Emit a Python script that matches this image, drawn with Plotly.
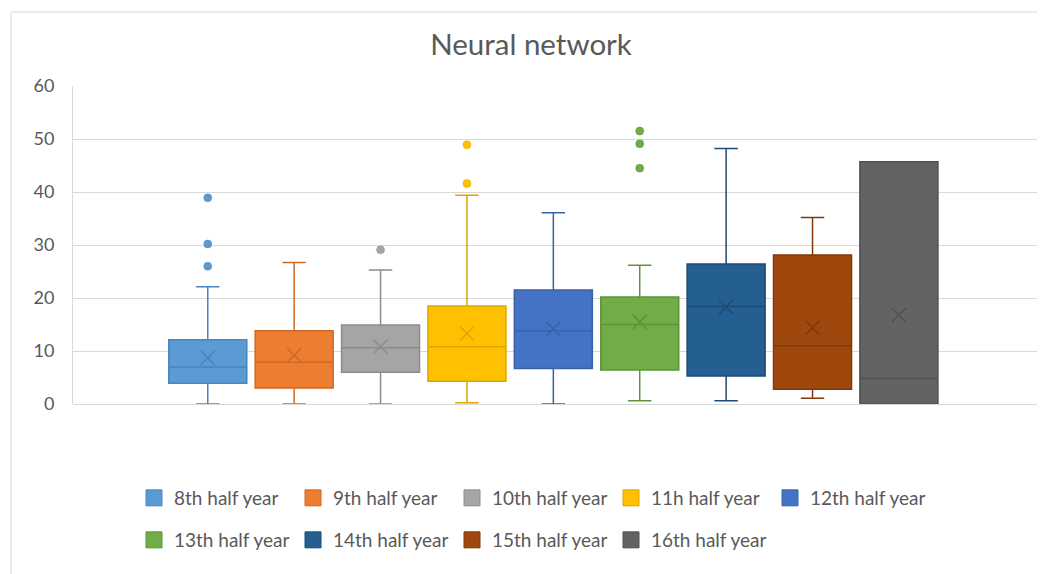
import plotly.graph_objects as go

# ---------------- data ----------------
series = ["8th half year", "9th half year", "10th half year", "11h half year", "12th half year",
          "13th half year", "14th half year", "15th half year", "16th half year"]
q1 = [3.9, 3.0, 6.0, 4.3, 6.7, 6.4, 5.3, 2.8, 0.0]
median = [7.0, 7.9, 10.6, 10.8, 13.8, 15.0, 18.4, 11.0, 4.8]
q3 = [12.1, 13.8, 14.9, 18.5, 21.5, 20.2, 26.4, 28.1, 45.7]
lower_whisker = [0.0, 0.0, 0.0, 0.25, 0.0, 0.6, 0.6, 1.1, 0.0]
upper_whisker = [22.1, 26.7, 25.3, 39.4, 36.1, 26.2, 48.2, 35.2, 45.7]
mean = [8.7, 9.2, 10.8, 13.3, 14.2, 15.5, 18.3, 14.4, 16.8]
outliers = [[26.0, 30.2, 38.9], [], [29.1], [41.6, 48.9], [], [44.5, 49.1, 51.5], [], [], []]
y_ticks = [0, 10, 20, 30, 40, 50, 60]

fills = ["#5B9BD5", "#ED7D31", "#A5A5A5", "#FFC000", "#4472C4", "#70AD47", "#255E91", "#9E480E", "#636363"]
lines = ["#4A85BD", "#CF6A25", "#8C8C8C", "#DDA600", "#3A62AA", "#5E933B", "#1D4B75", "#81390A", "#505050"]

FONT = "Lato"
GREY = "#595959"

# page body has an 8px margin: layout below is expressed in figure pixels
L, R, T, B = 65, 15, 78, 178
PW, PH = 1045 - L - R, 574 - T - B
BOTTOM = 574 - B

fig = go.Figure()

for i, name in enumerate(series):
    kw = {}
    if outliers[i]:
        kw["y"] = [outliers[i]]
    fig.add_trace(go.Box(
        x=[name], q1=[q1[i]], median=[median[i]], q3=[q3[i]],
        lowerfence=[lower_whisker[i]], upperfence=[upper_whisker[i]],
        name=name, showlegend=False,
        fillcolor=fills[i], line=dict(color=lines[i], width=1.5),
        whiskerwidth=0.3, boxpoints="outliers",
        marker=dict(color=fills[i], size=8, line=dict(color=lines[i], width=0.5)),
        **kw,
    ))

# mean markers (X)
fig.add_trace(go.Scatter(
    x=series, y=mean, mode="markers", showlegend=False, hoverinfo="skip",
    marker=dict(symbol="x-thin", size=14, line=dict(width=1.5, color=lines)),
))

# legend entries (square swatches)
for i, name in enumerate(series):
    fig.add_trace(go.Scatter(
        x=[None], y=[None], mode="markers", name=name,
        legend="legend" if i < 5 else "legend2",
        marker=dict(symbol="square", size=16, color=fills[i], line=dict(color=lines[i], width=1)),
    ))

leg_common = dict(
    orientation="h", xref="paper", yref="paper", xanchor="left", yanchor="middle",
    font=dict(family=FONT, size=19, color=GREY), entrywidth=114, entrywidthmode="pixels",
    itemwidth=30, bgcolor="rgba(0,0,0,0)", traceorder="normal",
)

fig.update_layout(
    width=1045, height=574,
    paper_bgcolor="white", plot_bgcolor="white",
    margin=dict(l=L, r=R, t=T, b=B, autoexpand=False),
    boxgap=0.097, boxgroupgap=0, boxmode="overlay",
    title=dict(text="Neural network", x=523 / 1045, xanchor="center", y=1 - 37 / 574, yanchor="middle",
               font=dict(family=FONT, size=29.5, color=GREY)),
    font=dict(family=FONT, color=GREY),
    xaxis=dict(type="category", categoryorder="array", categoryarray=series,
               range=[-1.56, 9.61], showticklabels=False, showgrid=False, zeroline=False,
               showline=False, ticks=""),
    yaxis=dict(range=[0, 60], tickvals=y_ticks, showgrid=True, gridcolor="#D9D9D9", gridwidth=1,
               zeroline=True, zerolinecolor="#D9D9D9", zerolinewidth=1,
               showline=True, linecolor="#D9D9D9", linewidth=1,
               ticks="outside", ticklen=14, tickcolor="rgba(0,0,0,0)",
               tickfont=dict(family=FONT, size=18, color=GREY)),
    legend=dict(x=(126 - L) / PW, y=(BOTTOM - 490) / PH, **leg_common),
    legend2=dict(x=(126 - L) / PW, y=(BOTTOM - 532) / PH, **leg_common),
    shapes=[dict(type="rect", xref="paper", yref="paper",
                 x0=(3 - L) / PW, x1=1.1, y0=-0.7, y1=(BOTTOM - 4) / PH,
                 line=dict(color="#D9D9D9", width=1), fillcolor="rgba(0,0,0,0)", layer="below")],
)

fig.write_html("out.html")
